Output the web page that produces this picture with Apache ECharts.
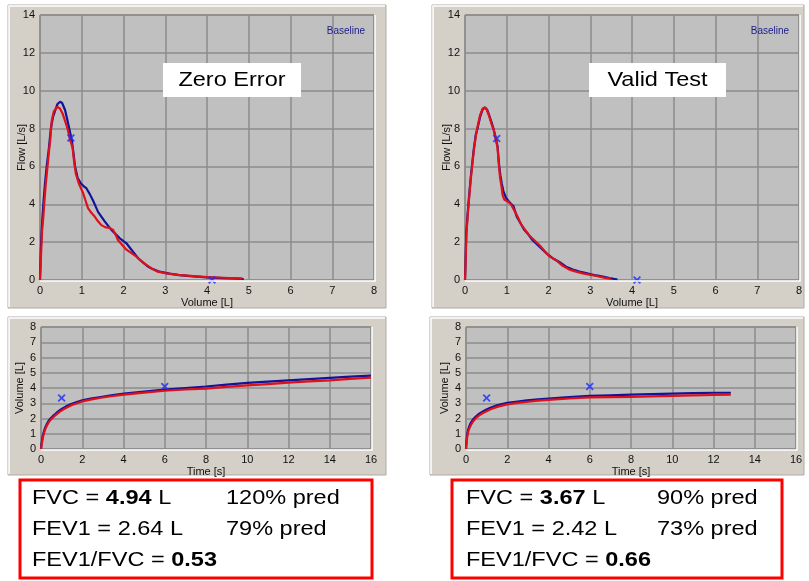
<!DOCTYPE html>
<html><head><meta charset="utf-8">
<script src="https://cdn.jsdelivr.net/npm/echarts@6/dist/echarts.min.js"></script>
<style>html,body{margin:0;padding:0;background:#fff}#c{width:809px;height:581px}</style>
</head><body><div id="c"></div>
<script>
// ---------- DATA ----------
// Flow-volume loops [volume L, flow L/s]
const fvLeftBlue = [[0,0],[0.01,0.8],[0.02,1.6],[0.04,2.6],[0.06,3.35],[0.09,4.3],[0.12,5.1],[0.16,6.0],[0.21,6.9],[0.26,8.0],[0.31,8.6],[0.37,9.0],[0.42,9.3],[0.48,9.42],[0.53,9.35],[0.6,8.98],[0.65,8.5],[0.70,8.0],[0.76,7.4],[0.79,6.9],[0.84,6.0],[0.9,5.4],[0.98,5.1],[1.05,4.95],[1.11,4.85],[1.19,4.55],[1.27,4.2],[1.33,3.9],[1.39,3.6],[1.47,3.35],[1.55,3.1],[1.62,2.9],[1.69,2.7],[1.8,2.45],[1.91,2.2],[2.0,2.05],[2.07,1.94],[2.19,1.6],[2.27,1.38],[2.35,1.15],[2.47,0.92],[2.59,0.7],[2.72,0.56],[2.86,0.44],[3.1,0.34],[3.34,0.26],[3.6,0.2],[4.0,0.14],[4.4,0.1],[4.8,0.07],[4.88,0.04]];
const fvLeftRed = [[0,0],[0.015,0.8],[0.03,1.6],[0.05,2.6],[0.08,3.35],[0.11,4.3],[0.14,5.1],[0.18,6.0],[0.22,6.9],[0.25,7.5],[0.28,8.4],[0.33,8.9],[0.42,9.15],[0.48,9.05],[0.54,8.8],[0.6,8.4],[0.66,8.0],[0.72,7.4],[0.78,7.0],[0.82,6.2],[0.86,5.6],[0.93,5.1],[1.03,4.6],[1.09,4.2],[1.15,3.8],[1.23,3.55],[1.31,3.35],[1.39,3.1],[1.47,2.9],[1.57,2.78],[1.67,2.75],[1.75,2.65],[1.81,2.4],[1.87,2.1],[1.97,1.85],[2.07,1.6],[2.19,1.42],[2.31,1.23],[2.43,1.0],[2.55,0.8],[2.68,0.6],[2.82,0.44],[3.02,0.35],[3.3,0.27],[3.6,0.22],[4.0,0.15],[4.4,0.12],[4.85,0.08]];
const fvRightBlue = [[0,0],[0.01,0.7],[0.03,2.47],[0.06,3.4],[0.09,4.23],[0.14,5.47],[0.18,6.3],[0.21,6.9],[0.26,7.7],[0.3,8.0],[0.36,8.6],[0.42,9.0],[0.48,9.12],[0.53,9.0],[0.58,8.7],[0.64,8.3],[0.68,8.0],[0.74,7.5],[0.78,7.04],[0.8,6.5],[0.82,6.0],[0.85,5.5],[0.88,5.1],[0.92,4.7],[0.98,4.35],[1.05,4.15],[1.16,3.9],[1.24,3.35],[1.33,3.0],[1.42,2.65],[1.52,2.4],[1.62,2.1],[1.74,1.85],[1.86,1.6],[1.98,1.35],[2.1,1.15],[2.26,0.95],[2.42,0.7],[2.58,0.55],[2.74,0.44],[2.9,0.36],[3.02,0.3],[3.15,0.24],[3.3,0.18],[3.46,0.1],[3.62,0.04],[3.65,0.02]];
const fvRightRed = [[0,0],[0.012,0.7],[0.035,2.47],[0.065,3.4],[0.095,4.23],[0.145,5.47],[0.185,6.3],[0.215,6.9],[0.26,7.6],[0.3,8.1],[0.36,8.7],[0.42,9.05],[0.47,9.12],[0.52,9.0],[0.58,8.65],[0.64,8.2],[0.68,8.0],[0.74,7.4],[0.78,7.0],[0.8,6.4],[0.82,5.9],[0.84,5.4],[0.87,5.0],[0.9,4.5],[0.94,4.25],[1.02,4.15],[1.1,4.0],[1.2,3.6],[1.27,3.3],[1.34,2.95],[1.44,2.65],[1.54,2.35],[1.66,2.1],[1.78,1.85],[1.9,1.55],[2.02,1.25],[2.18,1.05],[2.34,0.75],[2.5,0.55],[2.66,0.44],[2.82,0.35],[2.98,0.28],[3.18,0.2],[3.38,0.1],[3.5,0.07]];
// Volume-time curves [time s, volume L]
const vtLeftBlue = [[0,0],[0.02,0.3],[0.05,0.57],[0.08,0.85],[0.13,1.1],[0.2,1.4],[0.29,1.66],[0.37,1.85],[0.46,2.0],[0.58,2.17],[0.7,2.3],[0.85,2.48],[1.02,2.64],[1.2,2.78],[1.43,2.93],[1.7,3.06],[2.0,3.19],[2.4,3.3],[2.9,3.41],[3.4,3.52],[4.03,3.63],[5.0,3.77],[6.0,3.9],[7.0,4.0],[8.0,4.1],[9.0,4.22],[10,4.33],[11,4.42],[12,4.5],[13,4.58],[14,4.66],[15,4.74],[16,4.81]];
const vtLeftRed = [[0,0],[0.03,0.25],[0.06,0.5],[0.1,0.8],[0.15,1.05],[0.22,1.35],[0.31,1.6],[0.4,1.8],[0.5,1.96],[0.62,2.12],[0.75,2.27],[0.9,2.43],[1.07,2.58],[1.25,2.72],[1.5,2.88],[1.75,3.0],[2.0,3.12],[2.4,3.24],[2.9,3.36],[3.4,3.46],[4.03,3.57],[5.0,3.7],[6.0,3.82],[7.0,3.9],[8.0,3.96],[9,4.07],[10,4.17],[11,4.26],[12,4.35],[13,4.43],[14,4.5],[15,4.6],[16,4.68]];
const vtRightBlue = [[0,0],[0.02,0.45],[0.05,0.9],[0.1,1.25],[0.15,1.45],[0.21,1.66],[0.32,1.9],[0.45,2.1],[0.6,2.28],[0.78,2.43],[0.95,2.56],[1.18,2.71],[1.5,2.86],[2.0,3.02],[2.5,3.11],[2.96,3.19],[3.5,3.25],[4.0,3.3],[5.0,3.4],[6.0,3.48],[7.0,3.52],[8.0,3.56],[9,3.6],[10,3.63],[11,3.66],[12,3.69],[12.84,3.69]];
const vtRightRed = [[0,0],[0.03,0.4],[0.06,0.8],[0.11,1.15],[0.17,1.38],[0.24,1.58],[0.35,1.82],[0.48,2.02],[0.64,2.2],[0.82,2.36],[1.0,2.48],[1.22,2.62],[1.55,2.78],[2.0,2.93],[2.5,3.03],[3.0,3.1],[3.5,3.17],[4.0,3.22],[5.0,3.31],[6.0,3.38],[7.0,3.4],[8.0,3.41],[9,3.45],[10,3.48],[11,3.51],[12,3.54],[12.84,3.56]];
// Predicted markers
const fvMarks = [[0.74,7.5],[4.12,0]];
const fvMarksRight = [[0.76,7.48],[4.12,0]];
const vtMarks = [[1.0,3.35],[6.0,4.1]];
// Labels and results
const panelTitles = ['Zero Error','Valid Test'];
const fvcVals = ['4.94','3.67'];
const fev1Vals = ['2.64','2.42'];
const fvcPred = ['120% pred','90% pred'];
const fev1Pred = ['79% pred','73% pred'];
const ratioVals = ['0.53','0.66'];

// ---------- CHART ----------
const chart = echarts.init(document.getElementById('c'), null, {renderer:'canvas'});
const FONT = 'Liberation Sans';
const BLUE = '#12129a', RED = '#e0101a', MARK = '#1a2cff';
const X_SYM = 'path://M0,1.6L1.6,0L5,3.4L8.4,0L10,1.6L6.6,5L10,8.4L8.4,10L5,6.6L1.6,10L0,8.4L3.4,5Z';

const grids = [
  {left:40, top:15, width:334, height:265},
  {left:465, top:15, width:334, height:265},
  {left:41, top:327, width:330, height:122},
  {left:466, top:327, width:330, height:122}
].map(g => Object.assign({show:true, backgroundColor:'#c0c0c0', borderColor:'#7a7a7a', borderWidth:1}, g));

function axisCommon(){
  return {
    axisLine:{show:false}, axisTick:{show:false},
    axisLabel:{color:'#111', fontFamily:FONT, fontSize:11, margin:5},
    splitLine:{show:true, lineStyle:{color:'#8c8c8c', width:1.5}},
    nameMoveOverlap:false,
    nameTextStyle:{color:'#111', fontFamily:FONT, fontSize:11}
  };
}
const xAxes = [0,1,2,3].map(i => {
  const top = i < 2;
  return Object.assign(axisCommon(), {
    type:'value', gridIndex:i, min:0, max: top?8:16, interval: top?1:2,
    name: top?'Volume [L]':'Time [s]', nameLocation:'middle', nameGap:17
  });
});
const yAxes = [0,1,2,3].map(i => {
  const top = i < 2;
  return Object.assign(axisCommon(), {
    type:'value', gridIndex:i, min:0, max: top?14:8, interval: top?2:1,
    name: top?'Flow [L/s]':'Volume [L]', nameLocation:'middle', nameGap: top?13:16, nameRotate:90
  });
});

function line(data, idx, color){
  return {type:'line', xAxisIndex:idx, yAxisIndex:idx, data, showSymbol:false, smooth:false,
    lineStyle:{color, width:2.2}, itemStyle:{color}, silent:true, animation:false};
}
function marks(data, idx){
  return {type:'scatter', xAxisIndex:idx, yAxisIndex:idx, data, symbol:X_SYM, symbolSize:8,
    itemStyle:{color:MARK}, z:5, silent:true, animation:false};
}

const series = [
  line(fvLeftBlue,0,BLUE), line(fvLeftRed,0,RED), marks(fvMarks,0),
  line(fvRightBlue,1,BLUE), line(fvRightRed,1,RED), marks(fvMarksRight,1),
  line(vtLeftBlue,2,BLUE), line(vtLeftRed,2,RED), marks(vtMarks,2),
  line(vtRightBlue,3,BLUE), line(vtRightRed,3,RED), marks(vtMarks,3)
];

// decorative panels (behind grids)
function panel(x,y,w,h){
  return [
    {type:'rect', shape:{x:x,y:y,width:w,height:h}, style:{fill:'#d4d0c8', stroke:'#b0aca4', lineWidth:1}, z:-10, silent:true},
    {type:'polyline', shape:{points:[[x+1,y+h-1],[x+1,y+1],[x+w-1,y+1]]}, style:{stroke:'#ffffff', lineWidth:1.5, fill:null}, z:-9, silent:true}
  ];
}
function plotEdge(g){
  const x=g.left, y=g.top, w=g.width, h=g.height;
  return {type:'polyline', shape:{points:[[x,y+h+1],[x+w+1,y+h+1],[x+w+1,y]]}, style:{stroke:'#ffffff', lineWidth:1.5, fill:null}, z:10, silent:true};
}
const graphics = [].concat(
  panel(8,5,378,303), panel(432,5,372,303), panel(8,317,378,158), panel(430,317,374,158)
);
grids.forEach(g => graphics.push(plotEdge(g)));

// title boxes
const titleBoxes = [{x:163,y:63,w:138},{x:589,y:63,w:137}];
titleBoxes.forEach((b,i) => {
  graphics.push({type:'rect', shape:{x:b.x,y:b.y,width:b.w,height:34}, style:{fill:'#ffffff'}, z:20, silent:true});
  graphics.push({type:'text', x:b.x + b.w/2, y:b.y+17, scaleX:1.12, z:21, silent:true,
    style:{text:panelTitles[i], fill:'#000', font:'21px "Liberation Sans"', textAlign:'center', textVerticalAlign:'middle'}});
});
// Baseline labels
[346, 770].forEach(cx => graphics.push({type:'text', x:cx, y:31, z:21, silent:true,
  style:{text:'Baseline', fill:'#1c1c8c', font:'10px "Liberation Sans"', textAlign:'center', textVerticalAlign:'middle'}}));

// result boxes
const resBoxes = [{x:20, tx:32, px:226, w:352},{x:452, tx:466, px:657, w:330}];
const rich = {
  r:{fontSize:21, fontFamily:FONT, color:'#111'},
  b:{fontSize:21, fontFamily:FONT, fontWeight:'bold', color:'#111'}
};
resBoxes.forEach((b,i) => {
  graphics.push({type:'rect', shape:{x:b.x,y:480,width:b.w,height:98}, style:{fill:'#ffffff', stroke:'#ff0000', lineWidth:3}, z:20, silent:true});
  const rows = [
    ['{r|FVC = }{b|'+fvcVals[i]+'}{r| L}', fvcPred[i], 498],
    ['{r|FEV1 = '+fev1Vals[i]+' L}', fev1Pred[i], 529],
    ['{r|FEV1/FVC = }{b|'+ratioVals[i]+'}', '', 560]
  ];
  rows.forEach(r => {
    graphics.push({type:'text', x:b.tx, y:r[2], scaleX:1.12, z:21, silent:true,
      style:{text:r[0], rich, textVerticalAlign:'middle', textAlign:'left'}});
    if (r[1]) graphics.push({type:'text', x:b.px, y:r[2], scaleX:1.12, z:21, silent:true,
      style:{text:'{r|'+r[1]+'}', rich, textVerticalAlign:'middle', textAlign:'left'}});
  });
});

chart.setOption({
  animation:false,
  backgroundColor:'#ffffff',
  grid:grids, xAxis:xAxes, yAxis:yAxes, series, graphic:graphics
});
</script></body></html>
